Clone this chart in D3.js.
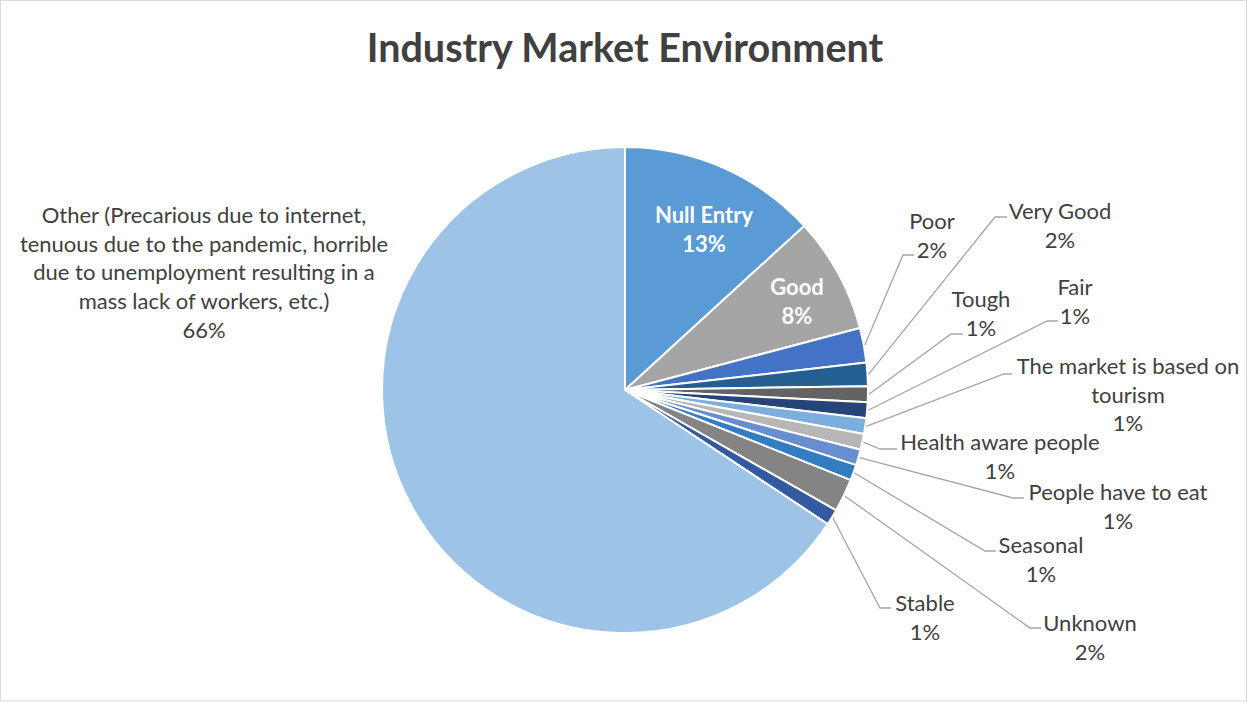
<!DOCTYPE html>
<html><head><meta charset="utf-8">
<script src="https://cdn.jsdelivr.net/npm/d3@7"></script>
<style>body{margin:0;background:#fff}svg{display:block}text{font-family:Lato,"Open Sans",sans-serif}</style>
</head><body><svg id="c" width="1247" height="702"></svg>
<script>
const categories = ["Null Entry","Good","Poor","Very Good","Tough","Fair","The market is based on tourism","Health aware people","People have to eat","Seasonal","Unknown","Stable","Other (Precarious due to internet, tenuous due to the pandemic, horrible due to unemployment resulting in a mass lack of workers, etc.)"];
// shares (labels in the picture are these rounded)
const values = [13.2,7.7,2.3,1.55,1.05,1.05,1.05,1.05,1.05,1.05,2.2,1.05,65.7];
const colors = ["#5B9BD5","#A5A5A5","#4472C4","#255E91","#636363","#264478","#7CAFDD","#B7B7B7","#698ED0","#327DC2","#848484","#335AA1","#9DC3E6"];
const labelLines = [["Null Entry"],["Good"],["Poor"],["Very Good"],["Tough"],["Fair"],["The market is based on","tourism"],["Health aware people"],["People have to eat"],["Seasonal"],["Unknown"],["Stable"],["Other (Precarious due to internet,","tenuous due to the pandemic, horrible","due to unemployment resulting in a","mass lack of workers, etc.)"]];

// layout (label centre x, first line centre y; elbow/end points of leader lines)
const layout = [
  {x:704,y:215,inside:true},
  {x:797,y:287,inside:true},
  {x:932,y:221,elbow:[903,255],end:[914,255]},
  {x:1060,y:211,elbow:[995,217],end:[1007,217]},
  {x:981,y:299,elbow:[951,334],end:[963,334]},
  {x:1075,y:287,elbow:[1047,321],end:[1058,321]},
  {x:1128,y:366,elbow:[1004,374],end:[1012,374]},
  {x:1000,y:442,elbow:[880,449],end:[897,449]},
  {x:1118,y:492,elbow:[1013,498],end:[1024,498]},
  {x:1041,y:545,elbow:[985,551],end:[996,551]},
  {x:1090,y:623,elbow:[1030,628],end:[1041,628]},
  {x:925,y:603,elbow:[880,608],end:[891,608]},
  {x:204,y:215}
];

const svg = d3.select("#c");
const W=1247,H=702;
svg.append("rect").attr("x",0.5).attr("y",0.5).attr("width",W-1).attr("height",H-1.5).attr("fill","#fff").attr("stroke","#D9D9D9").attr("stroke-width",1);

svg.append("text").attr("x",625).attr("y",62).attr("text-anchor","middle")
  .attr("font-size",39.5).attr("font-weight","bold").attr("fill","#404040").text("Industry Market Environment");

const cx=625, cy=390, R=243;
const total = d3.sum(values);
const pie = d3.pie().sort(null).value(d=>d)(values);
const arc = d3.arc().innerRadius(0).outerRadius(R);
const g = svg.append("g").attr("transform",`translate(${cx},${cy})`);
g.selectAll("path").data(pie).join("path").attr("d",arc)
  .attr("fill",(d,i)=>colors[i]).attr("stroke","#fff").attr("stroke-width",2).attr("stroke-linejoin","round");

const fmt = d3.format(".0%");
const lh = 28.8;
pie.forEach((d,i)=>{
  const L = layout[i];
  if(L.elbow){
    const a = (d.startAngle+d.endAngle)/2;
    const sx = cx + (R+1)*Math.sin(a), sy = cy - (R+1)*Math.cos(a);
    svg.append("polyline").attr("points",[[sx,sy],L.elbow,L.end].map(p=>p.join(",")).join(" "))
      .attr("fill","none").attr("stroke","#A6A6A6").attr("stroke-width",1.3);
  }
  const lines = labelLines[i].concat([fmt(values[i]/total)]);
  const t = svg.append("text").attr("text-anchor","middle").attr("font-size",22)
    .attr("font-weight",L.inside?"bold":"normal").attr("fill",L.inside?"#fff":"#404040");
  lines.forEach((s,k)=>{
    t.append("tspan").attr("x",L.x).attr("y",L.y+k*lh).attr("dy","0.35em").text(s);
  });
});
</script></body></html>
